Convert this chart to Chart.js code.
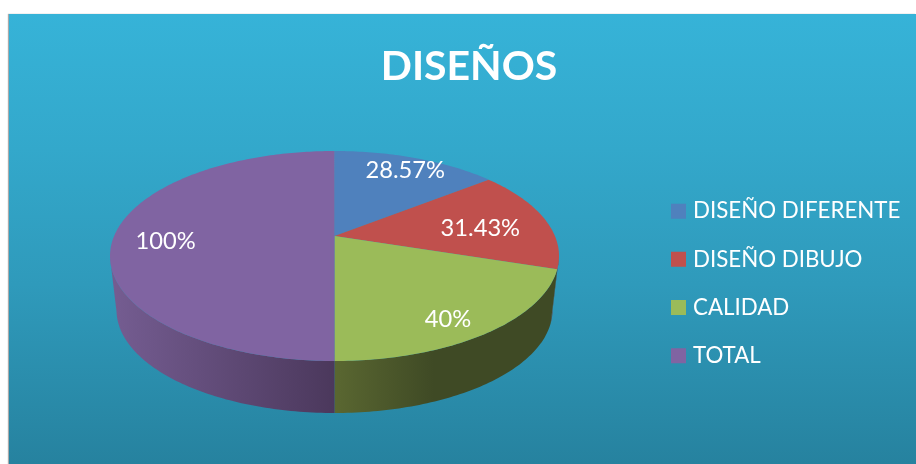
<!DOCTYPE html>
<html>
<head>
<meta charset="utf-8">
<style>
  html, body { margin: 0; background: #fff; overflow: hidden; }
  #wrap {
    position: absolute; left: 9px; top: 14px; width: 907px; height: 450px;
    background: linear-gradient(#36b3d8 0%, #33a8cb 30%, #2f9abb 60%, #26829f 100%);
    box-shadow: -1px 0 1px #aaa;
  }
  canvas { display: block; }
</style>
</head>
<body>
<div id="wrap"><canvas id="c" width="907" height="450"></canvas></div>
<script src="https://cdn.jsdelivr.net/npm/chart.js@4"></script>
<script>
const categories = ['DISEÑO DIFERENTE', 'DISEÑO DIBUJO', 'CALIDAD', 'TOTAL'];
const values = [28.57, 31.43, 40, 100];
const valueLabels = ['28.57%', '31.43%', '40%', '100%'];
const colors = ['#4f81bd', '#c0504d', '#9bbb59', '#8064a2'];

// lados de la torta: paradas de degradado, 0 = borde izq, 1 = borde der
const wallStops = [
  [[0, '#35516f'], [1, '#35516f']],
  [[0, '#6f2f2d'], [1, '#6f2f2d']],
  [[0.5, '#5a6731'], [0.72, '#3f4a25'], [1, '#3f4a25']],
  [[0, '#755d92'], [0.5, '#4b385c']],
];
// donde cae cada etiqueta dentro de su porcion
const labelRadius = [0.83, 0.675, 0.84, 0.76];
const labelNudge = [0.5, 4, 4, -4];

// elipse superior e inferior, en px del canvas
const TOP = { cx: 325.5, cy: 242, rx: 224.5, ry: 105 };
const BOTTOM = { cx: 325.5, cy: 296, rx: 218, ry: 103 };
const PERSP = 0.19; // el vertice queda por encima del centro de la elipse

// disco unidad -> elipse, con perspectiva (a medido desde arriba, horario)
function project(a, r = 1) {
  const u = r * Math.sin(a), v = r * Math.cos(a);
  const d = 1 + PERSP * v;
  return { sx: u * Math.sqrt(1 - PERSP * PERSP) / d, sy: (v + PERSP) / d };
}
const toPx = (e, p) => ({ x: e.cx + e.rx * p.sx, y: e.cy - e.ry * p.sy });

function samples(el) {
  const a0 = el.startAngle + Math.PI / 2, a1 = el.endAngle + Math.PI / 2;
  const n = Math.ceil((a1 - a0) * 60), out = [];
  for (let i = 0; i <= n; i++) out.push(project(a0 + (a1 - a0) * i / n));
  return out;
}

const pie3d = {
  id: 'pie3d',
  afterLayout(chart) {
    // la leyenda va fija, un poco mas abajo que el centro del area
    const lg = chart.legend, pad = lg.options.labels.padding;
    lg.left = 640.25;
    lg.right = lg.left + lg.width;
    lg.top = 160.1;
    lg.bottom = lg.top + pad + lg.columnSizes[0].height;
  },
  beforeDatasetDraw(chart) {
    const ctx = chart.ctx;
    const arcs = chart.getDatasetMeta(0).data;

    arcs.forEach((el, i) => {
      const front = samples(el).filter((p) => p.sy <= 0);
      if (front.length < 2) return;
      const g = ctx.createLinearGradient(TOP.cx - TOP.rx, 0, TOP.cx + TOP.rx, 0);
      wallStops[i].forEach(([o, c]) => g.addColorStop(o, c));
      ctx.beginPath();
      front.forEach((p, j) => {
        const q = toPx(TOP, p);
        j ? ctx.lineTo(q.x, q.y) : ctx.moveTo(q.x, q.y);
      });
      front.slice().reverse().forEach((p) => {
        const q = toPx(BOTTOM, p);
        ctx.lineTo(q.x, q.y);
      });
      ctx.closePath();
      ctx.fillStyle = g;
      ctx.fill();
    });

    arcs.forEach((el, i) => {
      const apex = toPx(TOP, { sx: 0, sy: PERSP });
      ctx.beginPath();
      ctx.moveTo(apex.x, apex.y);
      samples(el).forEach((p) => {
        const q = toPx(TOP, p);
        ctx.lineTo(q.x, q.y);
      });
      ctx.closePath();
      ctx.fillStyle = colors[i];
      ctx.fill();
    });

    ctx.font = '23.7px Lato';
    ctx.fillStyle = '#fff';
    ctx.textAlign = 'center';
    ctx.textBaseline = 'middle';
    arcs.forEach((el, i) => {
      const mid = (el.startAngle + el.endAngle) / 2 + Math.PI / 2 + labelNudge[i] * Math.PI / 180;
      const q = toPx(TOP, project(mid, labelRadius[i]));
      ctx.fillText(valueLabels[i], q.x, q.y);
    });
    return false;
  },
};

new Chart(document.getElementById('c'), {
  type: 'pie',
  data: { labels: categories, datasets: [{ data: values, backgroundColor: colors, borderWidth: 0 }] },
  plugins: [pie3d],
  options: {
    responsive: false,
    animation: false,
    layout: { padding: { left: 13, right: 0 } },
    plugins: {
      tooltip: { enabled: false },
      title: {
        display: true,
        text: 'DISEÑOS',
        color: '#fff',
        font: { family: 'Lato', size: 41, weight: 'bold' },
        padding: { top: 28, bottom: 0 },
      },
      legend: {
        position: 'right',
        labels: {
          color: '#fff',
          font: { family: 'Lato', size: 22.3 },
          padding: 25.9,
          boxWidth: 6.7,
          boxHeight: 6.7,
          generateLabels: () => categories.map((text, i) => ({
            text, fillStyle: colors[i], strokeStyle: colors[i], fontColor: '#fff', lineWidth: 8.3, hidden: false, index: i,
          })),
        },
      },
    },
  },
});
</script>
</body>
</html>
